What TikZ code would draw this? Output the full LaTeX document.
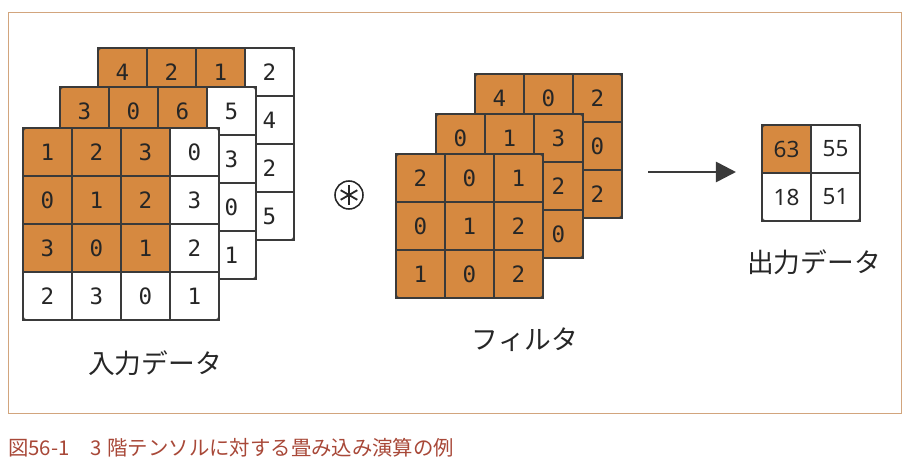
\documentclass[tikz,border=0pt]{standalone}
\usepackage{fontspec}
\newfontfamily\jpfont{Noto Sans CJK JP}
\newfontfamily\numfont{DejaVu Sans Mono}
\newfontfamily\outfont{Noto Sans}
\usetikzlibrary{positioning, fit, arrows.meta, calc}
\usepackage{xcolor}
\definecolor{cellorange}{RGB}{214,137,64}
\definecolor{gridline}{RGB}{58,58,58}
\definecolor{framecol}{RGB}{210,165,125}
\definecolor{captioncol}{RGB}{168,72,56}

% one layer of a tensor: #1 name, #2 top-left corner, #3 columns, #4 rows,
% #5 size of the orange block, #6 values row by row
\newcommand{\tensorlayer}[6]{%
  \foreach \v [count=\i from 0] in {#6} {
    \pgfmathtruncatemacro{\r}{div(\i,#3)+1}
    \pgfmathtruncatemacro{\c}{mod(\i,#3)+1}
    \pgfmathtruncatemacro{\hot}{and(\r<=#5,\c<=#5)}
    \ifnum\hot=1 \def\cf{cellorange}\else\def\cf{white}\fi
    \node[cell, fill=\cf] (#1-\r-\c) at ($#2 + (\c*49-24.5, \r*48-24)$) {\v};
  }
  \draw[layerbox] (#1-1-1.north west) rectangle (#1-#4-#3.south east);
}

\begin{document}
\begin{tikzpicture}[
        x=0.025cm, y=-0.025cm,
        font=\jpfont,
        % Define styles for the nodes
        cellfont/.style={font=\numfont\fontsize{16pt}{16pt}\selectfont},
        cell/.style={rectangle, draw=gridline, line width=1.3pt, outer sep=0pt, inner sep=0pt,
            minimum width=1.225cm, minimum height=1.2cm, text=black!85, cellfont},
        layerbox/.style={draw=gridline, line width=1.3pt, rounded corners=2pt},
        label text/.style={font=\jpfont\fontsize{19pt}{19pt}\selectfont, text=black!85},
        flowarrow/.style={-{Triangle[length=5mm, width=5mm]}, line width=1.9pt, draw=gridline}
    ]
        \useasboundingbox (0,0) rectangle (914,466);

        % --- Frame ---
        \draw[framecol, line width=0.6pt] (8,12) rectangle (901,413);

        % --- Input data (back to front) ---
        \tensorlayer{inb}{(98,48)}{4}{4}{3}{4,2,1,2,{},{},{},4,{},{},{},2,{},{},{},5}
        \tensorlayer{inm}{(60,87)}{4}{4}{3}{3,0,6,5,{},{},{},3,{},{},{},0,{},{},{},1}
        \tensorlayer{inf}{(23,128)}{4}{4}{3}{1,2,3,0,0,1,2,3,3,0,1,2,2,3,0,1}
        \node[label text] (inlabel) at (155,363) {入力データ};

        % --- Convolution sign ---
        \node[circle, draw=black!85, line width=1.1pt, minimum size=0.7cm] (conv) at (349,195) {};
        \foreach \a in {90,30,150}
            \draw[black!85, line width=1.3pt] (conv.center) ++(\a:0.24cm) -- ++(\a+180:0.48cm);

        % --- Filter (back to front) ---
        \tensorlayer{fb}{(475,74)}{3}{3}{3}{4,0,2,{},{},0,{},{},2}
        \tensorlayer{fm}{(436,114)}{3}{3}{3}{0,1,3,{},{},2,{},{},0}
        \tensorlayer{ff}{(396,154)}{3}{3}{3}{2,0,1,0,1,2,1,0,2}
        \node[label text] (filterlabel) at (525,340) {フィルタ};

        % --- Output data ---
        \begin{scope}[cellfont/.style={font=\outfont\fontsize{16pt}{16pt}\selectfont}]
            \tensorlayer{out}{(762,125)}{2}{2}{1}{63,55,18,51}
        \end{scope}
        \node[label text] (outlabel) at (814,262) {出力データ};

        % --- Arrow ---
        \coordinate (arrowstart) at (648,172);
        \draw[flowarrow, shorten >=0.65cm] (arrowstart) -- (out-1-1.west |- arrowstart);

        % --- Caption ---
        \node[anchor=west, inner sep=0pt, text=captioncol, font=\jpfont\fontsize{14.5pt}{14.5pt}\selectfont]
            (caption) at (8,448) {図56-1\hspace{1em}3\hspace{0.3em}階テンソルに対する畳み込み演算の例};
    \end{tikzpicture}
\end{document}
